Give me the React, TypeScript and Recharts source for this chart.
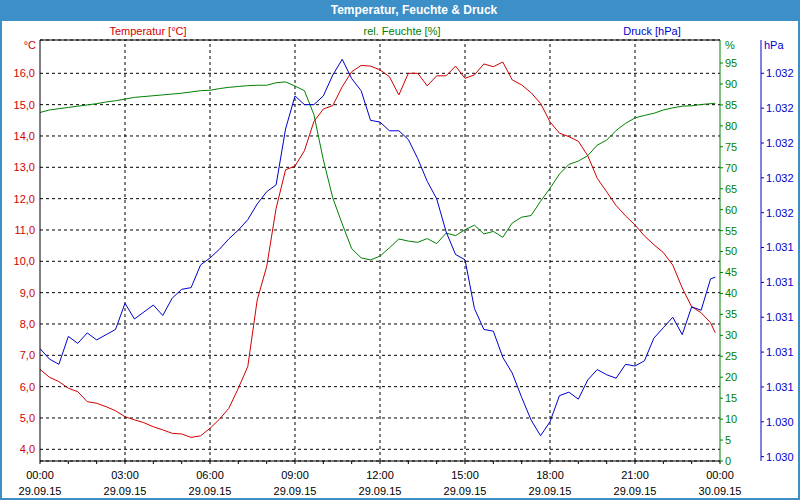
import React from 'react';
import { LineChart, Line, XAxis, YAxis, CartesianGrid, ReferenceLine } from 'recharts';

// time of day in minutes (29.09.15)
const minutes = [
  0, 20, 40, 60, 80, 100, 120, 140, 160, 180, 200, 220, 240, 260, 280, 300, 320, 340,
  360, 380, 400, 420, 440, 460, 480, 500, 520, 540, 560, 580, 600, 620, 640, 660, 680, 700,
  720, 740, 760, 780, 800, 820, 840, 860, 880, 900, 920, 940, 960, 980, 1000, 1020, 1040, 1060,
  1080, 1100, 1120, 1140, 1160, 1180, 1200, 1220, 1240, 1260, 1280, 1300, 1320, 1340, 1360, 1380, 1400, 1420, 1430,
];

// Temperatur [°C]
const temperature = [
  6.55, 6.30, 6.16, 5.95, 5.84, 5.52, 5.47, 5.36, 5.23, 5.04, 4.94, 4.85, 4.72, 4.62, 4.51, 4.49, 4.38, 4.43,
  4.67, 4.96, 5.31, 5.95, 6.64, 8.77, 9.83, 11.69, 12.92, 13.04, 13.53, 14.46, 14.86, 14.97, 15.57, 16.05, 16.25, 16.23,
  16.11, 15.89, 15.31, 16.0, 16.0, 15.6, 15.92, 15.92, 16.23, 15.84, 15.95, 16.3, 16.21, 16.36, 15.79, 15.63, 15.38, 15.04,
  14.45, 14.09, 13.98, 13.83, 13.37, 12.65, 12.22, 11.78, 11.45, 11.16, 10.81, 10.53, 10.28, 9.88, 9.15, 8.55, 8.36, 8.04, 7.72,
];

// rel. Feuchte [%]
const humidity = [
  83.2, 83.8, 84.1, 84.4, 84.7, 85.0, 85.3, 85.7, 86.0, 86.4, 86.8, 87.0, 87.2, 87.4, 87.6, 87.8, 88.1, 88.4,
  88.5, 88.9, 89.2, 89.4, 89.6, 89.7, 89.7, 90.3, 90.5, 89.5, 88.4, 82.7, 71.9, 62.8, 56.6, 50.7, 48.5, 48.0,
  48.9, 50.9, 53.0, 52.5, 52.2, 53.1, 51.9, 54.4, 53.8, 55.2, 56.3, 54.2, 54.8, 53.4, 56.8, 58.2, 58.6, 62.0,
  65.1, 68.5, 70.8, 71.6, 72.9, 75.4, 76.6, 78.9, 80.6, 81.9, 82.5, 83.0, 83.8, 84.3, 84.7, 84.8, 85.1, 85.3, 85.4,
];

// Druck [hPa]
const pressure = [
  1030.82, 1030.76, 1030.73, 1030.89, 1030.85, 1030.91, 1030.87, 1030.90, 1030.93, 1031.08, 1030.99, 1031.03, 1031.07, 1031.01, 1031.11, 1031.16, 1031.17, 1031.30,
  1031.34, 1031.39, 1031.45, 1031.50, 1031.56, 1031.65, 1031.72, 1031.76, 1032.08, 1032.27, 1032.22, 1032.22, 1032.27, 1032.39, 1032.48, 1032.37, 1032.30, 1032.13,
  1032.12, 1032.07, 1032.07, 1032.02, 1031.91, 1031.78, 1031.68, 1031.49, 1031.36, 1031.33, 1031.05, 1030.93, 1030.92, 1030.77, 1030.68, 1030.54, 1030.41, 1030.32,
  1030.40, 1030.55, 1030.57, 1030.53, 1030.64, 1030.70, 1030.67, 1030.65, 1030.73, 1030.72, 1030.75, 1030.88, 1030.94, 1031.00, 1030.90, 1031.06, 1031.04, 1031.22, 1031.23,
];

const hourTicks = [0, 60, 120, 180, 240, 300, 360, 420, 480, 540, 600, 660, 720, 780, 840, 900, 960, 1020, 1080, 1140, 1200, 1260, 1320, 1380, 1440];
const majorTicks = [0, 180, 360, 540, 720, 900, 1080, 1260, 1440];
const hourLabels = ['00:00', '03:00', '06:00', '09:00', '12:00', '15:00', '18:00', '21:00', '00:00'];
const dateLabels = ['29.09.15', '29.09.15', '29.09.15', '29.09.15', '29.09.15', '29.09.15', '29.09.15', '29.09.15', '30.09.15'];
const innerVerticals = [180, 360, 540, 720, 900, 1080, 1260];

const tempTicks = [4, 5, 6, 7, 8, 9, 10, 11, 12, 13, 14, 15, 16];
const humTicks = [0, 5, 10, 15, 20, 25, 30, 35, 40, 45, 50, 55, 60, 65, 70, 75, 80, 85, 90, 95];
const pressTicks = [1030.2, 1030.4, 1030.6, 1030.8, 1031.0, 1031.2, 1031.4, 1031.6, 1031.8, 1032.0, 1032.2, 1032.4];

const tempDomain = [3.627, 17.063];
const humDomain = [0, 100.5];
const pressDomain = [1030.175, 1032.591];

const RED = '#d00000';
const GREEN = '#008000';
const BLUE = '#0000cc';
const FRAME = '#3d8fc7';
const FONT = "'Liberation Sans', Arial, sans-serif";

const rows = minutes.map((m, i) => ({ min: m, temp: temperature[i], hum: humidity[i], press: pressure[i] }));

const fmtTemp = (v: number) => v.toFixed(1).replace('.', ',');
const fmtPress = (v: number) => {
  const r = Math.round(v);
  return `${Math.floor(r / 1000)}.${String(r % 1000).padStart(3, '0')}`;
};

const XTick = (props: any) => {
  const { x, y, payload } = props;
  const idx = majorTicks.indexOf(payload.value);
  if (idx < 0) return <g />;
  return (
    <g>
      <text x={x} y={y + 13} textAnchor="middle" fill="#000" fontSize={11} fontFamily={FONT}>{hourLabels[idx]}</text>
      <text x={x} y={y + 29} textAnchor="middle" fill="#000" fontSize={11} fontFamily={FONT}>{dateLabels[idx]}</text>
    </g>
  );
};

const abs = (extra: React.CSSProperties): React.CSSProperties => ({ position: 'absolute', fontFamily: FONT, fontSize: 11, lineHeight: '13px', whiteSpace: 'nowrap', ...extra });

export default function App() {
  return (
    <div style={{ position: 'absolute', left: 0, top: 0, width: 800, height: 500, background: '#fff', overflow: 'hidden' }}>
      <div style={{ position: 'absolute', left: 0, top: 0 }}>
        <LineChart width={800} height={500} data={rows} margin={{ top: 40, right: 0, bottom: 0, left: 10 }}>
          <CartesianGrid yAxisId="temp" vertical={false} stroke="#000" strokeDasharray="3 3" />
          <XAxis
            dataKey="min"
            type="number"
            domain={[0, 1440]}
            ticks={hourTicks}
            interval={0}
            height={39}
            tickSize={3}
            tickMargin={2}
            stroke="#000"
            tickLine={{ stroke: '#000' }}
            axisLine={{ stroke: '#000' }}
            tick={<XTick />}
            allowDataOverflow
          />
          <YAxis
            yAxisId="temp"
            orientation="left"
            width={30}
            domain={tempDomain}
            ticks={tempTicks}
            interval={0}
            allowDataOverflow
            tickFormatter={fmtTemp}
            tickLine={false}
            tickSize={5}
            tickMargin={0}
            axisLine={{ stroke: '#000' }}
            tick={{ fill: RED, fontSize: 11, fontFamily: FONT }}
          />
          <YAxis
            yAxisId="hum"
            orientation="right"
            width={41}
            domain={humDomain}
            ticks={humTicks}
            interval={0}
            allowDataOverflow
            tickSize={3}
            tickMargin={2}
            axisLine={{ stroke: GREEN }}
            tickLine={{ stroke: GREEN }}
            tick={{ fill: GREEN, fontSize: 11, fontFamily: FONT }}
          />
          <YAxis
            yAxisId="press"
            orientation="right"
            width={39}
            domain={pressDomain}
            ticks={pressTicks}
            interval={0}
            allowDataOverflow
            tickFormatter={fmtPress}
            tickSize={3}
            tickMargin={2}
            axisLine={{ stroke: BLUE }}
            tickLine={{ stroke: BLUE }}
            tick={{ fill: BLUE, fontSize: 11, fontFamily: FONT }}
          />
          {innerVerticals.map((v) => (
            <ReferenceLine key={v} x={v} yAxisId="temp" stroke="#000" strokeDasharray="3 3" />
          ))}
          <ReferenceLine y={tempDomain[1]} yAxisId="temp" stroke="#000" ifOverflow="extendDomain" />
          <Line yAxisId="hum" dataKey="hum" stroke={GREEN} strokeWidth={1} dot={false} isAnimationActive={false} type="linear" />
          <Line yAxisId="temp" dataKey="temp" stroke={RED} strokeWidth={1} dot={false} isAnimationActive={false} type="linear" />
          <Line yAxisId="press" dataKey="press" stroke={BLUE} strokeWidth={1} dot={false} isAnimationActive={false} type="linear" />
        </LineChart>
      </div>

      <div style={{ position: 'absolute', left: 0, top: 0, width: 800, height: 21, background: FRAME }} />
      <div style={abs({ left: 414, top: 3, transform: 'translateX(-50%)', color: '#fff', fontWeight: 'bold', fontSize: 12, lineHeight: '15px' })}>
        Temperatur, Feuchte &amp; Druck
      </div>
      <div style={{ position: 'absolute', left: 0, top: 0, width: 2, height: 500, background: FRAME }} />
      <div style={{ position: 'absolute', left: 798, top: 0, width: 2, height: 500, background: FRAME }} />
      <div style={{ position: 'absolute', left: 0, top: 498, width: 800, height: 2, background: FRAME }} />

      <div style={abs({ left: 148, top: 25, transform: 'translateX(-50%)', color: RED })}>Temperatur [°C]</div>
      <div style={abs({ left: 402, top: 25, transform: 'translateX(-50%)', color: GREEN })}>rel. Feuchte [%]</div>
      <div style={abs({ left: 652, top: 25, transform: 'translateX(-50%)', color: BLUE })}>Druck [hPa]</div>
      <div style={abs({ left: 36, top: 39, transform: 'translateX(-100%)', color: RED })}>°C</div>
      <div style={abs({ left: 725, top: 39, color: GREEN })}>%</div>
      <div style={abs({ left: 764, top: 39, color: BLUE })}>hPa</div>
    </div>
  );
}
